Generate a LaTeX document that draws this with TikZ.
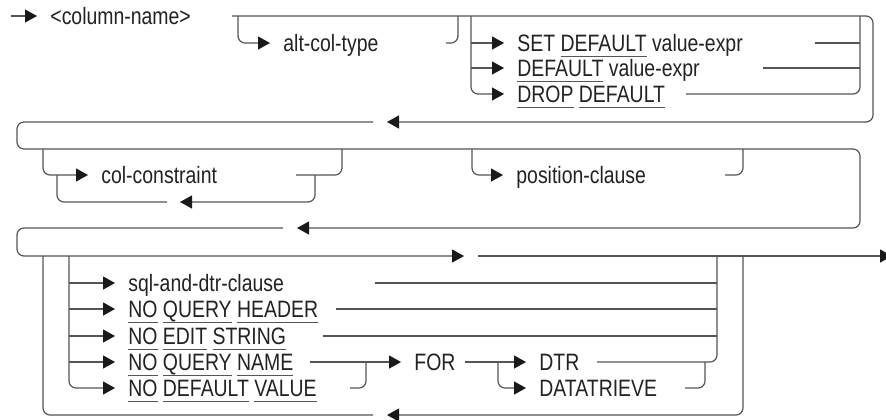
\documentclass[tikz,border=0pt]{standalone}
\usepackage{fontspec}
\setmainfont{Liberation Sans}[FakeStretch=0.82]
\usepackage{tikz}
\usetikzlibrary{arrows.meta}
\definecolor{railgray}{HTML}{555555}
\definecolor{textgray}{HTML}{222222}
\definecolor{tipblack}{HTML}{1A1A1A}
% underlined keyword
\newcommand{\kw}[1]{\setbox0\hbox{#1}\rlap{\textcolor{railgray}{\rule[-2.8pt]{\wd0}{0.55pt}}}\box0\relax}

\begin{document}
\begin{tikzpicture}[
  x=0.5pt, y=-0.5pt,
  font=\fontsize{11.85pt}{14pt}\selectfont,
  rail/.style={draw=railgray, line width=0.6pt, rounded corners=3.5pt},
  arr/.style={rail, -{Triangle[length=6pt, width=6.5pt, color=tipblack]}},
  kwnode/.style={anchor=west, inner xsep=6.5pt, inner ysep=0pt, text height=8.5pt, text depth=0pt, text=textgray}
]
  \useasboundingbox (0,0) rectangle (886,419);

  % Row 1: column name and type / default
  \node[kwnode] (colname) at (37,16) {<column-name>};
  \node[kwnode] (altcol) at (270,43) {alt-col-type};
  \node[kwnode] (setdef) at (504,43) {SET \kw{DEFAULT} value-expr};
  \node[kwnode] (def) at (504,68) {\kw{DEFAULT} value-expr};
  \node[kwnode] (dropdef) at (504,94) {\kw{DROP} \kw{DEFAULT}};

  \draw[arr] (11,16) -- (colname.west);
  \draw[arr] (232,16) -- (873,16) -- (873,122) -- (387,122);
  \draw[arr] (238,16) |- (altcol.west);
  \draw[rail] (446,43) -| (458,16);
  \draw[arr] (471,16) |- (dropdef.west);
  \draw[arr] (471,43) -- (setdef.west);
  \draw[arr] (471,68) -- (def.west);
  \draw[rail] (815,43) -- (860,43);
  \draw[rail] (763,68) -- (860,68);
  \draw[rail] (686,94) -| (860,16);

  % Row 2: constraints and position
  \node[kwnode] (colcons) at (88,175) {col-constraint};
  \node[kwnode] (poscl) at (503,175) {position-clause};

  \draw[arr] (373,122) -- (17,122) -- (17,149) -- (860,149) -- (860,228) -- (297,228);
  \draw[arr] (43,149) |- (colcons.west);
  \draw[rail] (296,175) -| (342,149);
  \draw[arr] (315,175) |- (180,202);
  \draw[rail] (167,202) -| (57,175);
  \draw[arr] (472,149) |- (poscl.west);
  \draw[rail] (725,175) -| (743,149);

  % Row 3: query / edit options
  \node[kwnode] (sql) at (115,283) {sql-and-dtr-clause};
  \node[kwnode] (nqh) at (115,309) {\kw{NO} \kw{QUERY} \kw{HEADER}};
  \node[kwnode] (nes) at (115,336) {\kw{NO} \kw{EDIT} \kw{STRING}};
  \node[kwnode] (nqn) at (115,362) {\kw{NO} \kw{QUERY} \kw{NAME}};
  \node[kwnode] (ndv) at (115,388) {\kw{NO} \kw{DEFAULT} \kw{VALUE}};
  \node[kwnode] (for) at (401,362) {FOR};
  \node[kwnode] (dtr) at (526,362) {DTR};
  \node[kwnode] (datatr) at (526,388) {DATATRIEVE};

  \draw[arr] (283,228) -- (17,228) -- (17,256) -- (464,256);
  \draw[arr] (478,256) -- (892,256);
  \draw[arr] (743,256) |- (387,415);
  \draw[rail] (373,415) -| (43,256);
  \draw[arr] (69,256) |- (ndv.west);
  \draw[arr] (69,283) -- (sql.west);
  \draw[arr] (69,309) -- (nqh.west);
  \draw[arr] (69,336) -- (nes.west);
  \draw[arr] (69,362) -- (nqn.west);
  \draw[rail] (375,283) -- (717,283);
  \draw[rail] (336,309) -- (717,309);
  \draw[rail] (323,336) -- (717,336);
  \draw[arr] (310,362) -- (for.west);
  \draw[rail] (350,388) -| (366,362);
  \draw[arr] (465,362) -- (dtr.west);
  \draw[arr] (498,362) |- (datatr.west);
  \draw[rail] (597,362) -| (717,256);
  \draw[rail] (685,388) -| (705,362);
\end{tikzpicture}
\end{document}
